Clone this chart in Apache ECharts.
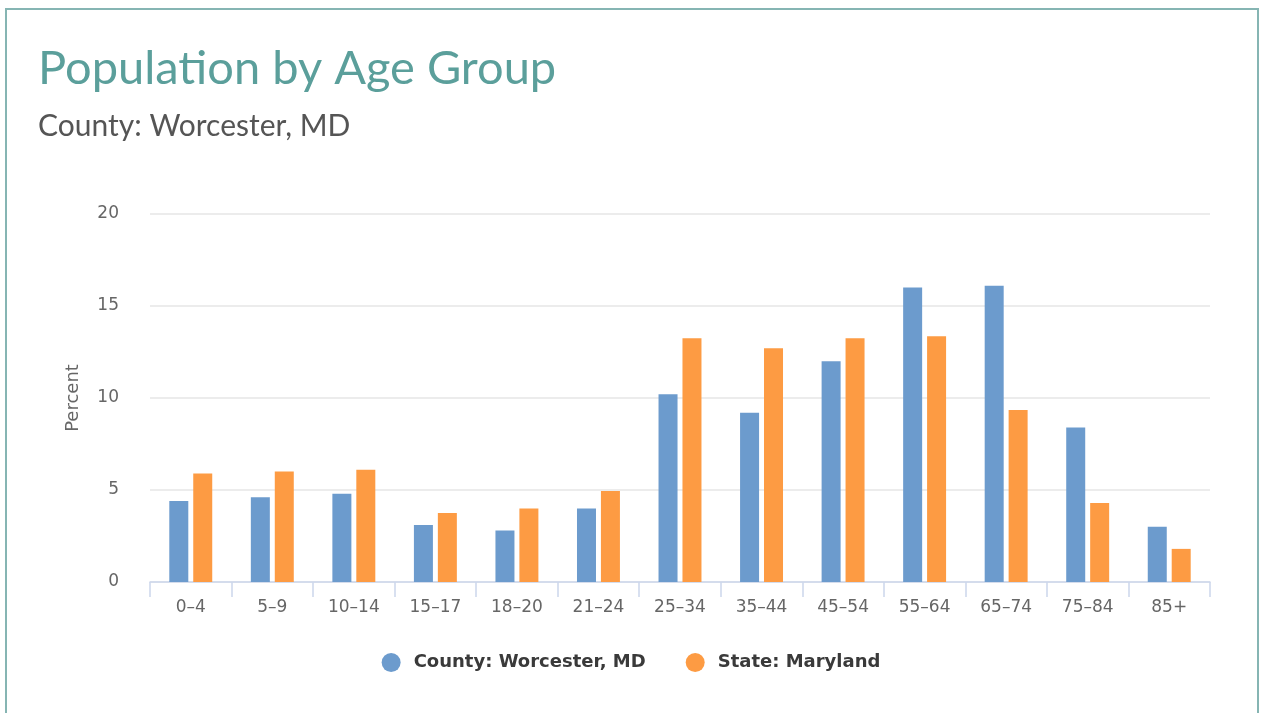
<!DOCTYPE html>
<html>
<head>
<meta charset="utf-8">
<script src="https://cdn.jsdelivr.net/npm/echarts@6/dist/echarts.min.js"></script>
<style>
  html, body { margin: 0; padding: 0; background: #fff; }
  #frame {
    position: absolute; left: 5px; top: 8px; width: 1254px; height: 720px;
    border: 2px solid #86b5b3; box-sizing: border-box;
  }
  #chart { position: absolute; left: 0; top: 0; width: 1262px; height: 713px; }
</style>
</head>
<body>
<div id="frame"></div>
<div id="chart"></div>
<script>
const ageGroups = ["0–4", "5–9", "10–14", "15–17", "18–20", "21–24", "25–34", "35–44", "45–54", "55–64", "65–74", "75–84", "85+"]
const countyValues = [4.4, 4.6, 4.8, 3.1, 2.8, 4.0, 10.2, 9.2, 12.0, 16.0, 16.1, 8.4, 3.0]
const stateValues = [5.9, 6.0, 6.1, 3.75, 4.0, 4.95, 13.25, 12.7, 13.25, 13.35, 9.35, 4.3, 1.8]

const chart = echarts.init(document.getElementById("chart"))

const option = {
  animation: false,
  title: {
    text: "Population by Age Group",
    subtext: "County: Worcester, MD",
    left: 33,
    top: 40,
    itemGap: 19,
    textStyle: { fontFamily: "Lato", fontSize: 47, fontWeight: "normal", color: "#5b9f9b" },
    subtextStyle: { fontFamily: "Lato", fontSize: 30, color: "#555555" },
  },
  legend: {
    left: "center",
    top: 648,
    icon: "circle",
    itemWidth: 19,
    itemHeight: 19,
    itemGap: 40,
    textStyle: {
      fontFamily: "DejaVu Sans",
      fontSize: 18,
      fontWeight: "bold",
      color: "#3a3a3a",
      padding: [0, 0, 0, 8],
    },
  },
  grid: { left: 150, right: 52, top: 214, bottom: 131 },
  xAxis: {
    type: "category",
    data: ageGroups,
    axisLine: { lineStyle: { color: "#ccd6eb", width: 1.5 } },
    axisTick: { show: true, length: 15, lineStyle: { color: "#ccd6eb", width: 1.5 } },
    axisLabel: { interval: 0, margin: 17, fontFamily: "DejaVu Sans", fontSize: 17, color: "#666666" },
  },
  yAxis: {
    type: "value",
    min: 0,
    max: 20,
    interval: 5,
    name: "Percent",
    nameLocation: "middle",
    nameRotate: 90,
    nameGap: 68,
    nameTextStyle: { fontFamily: "DejaVu Sans", fontSize: 18, color: "#666666" },
    axisLabel: { margin: 31, fontFamily: "DejaVu Sans", fontSize: 17, color: "#666666" },
    splitLine: { lineStyle: { color: "#e6e6e6", width: 1.5 } },
  },
  series: [
    {
      name: "County: Worcester, MD",
      type: "bar",
      data: countyValues,
      barWidth: 19,
      barGap: "26%",
      itemStyle: { color: "#6c9bcd" },
    },
    {
      name: "State: Maryland",
      type: "bar",
      data: stateValues,
      barWidth: 19,
      itemStyle: { color: "#fd9b43" },
    },
  ],
}

chart.setOption(option)
</script>
</body>
</html>
